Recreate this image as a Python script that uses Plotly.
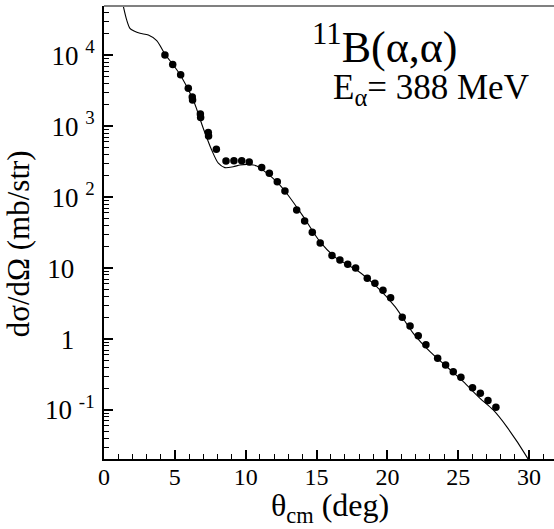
import plotly.graph_objects as go

# Experimental data: theta_cm (deg), dsigma/dOmega (mb/str)
theta_exp = [4.30, 4.85, 5.41, 5.95, 6.23, 6.25, 6.80, 6.82, 7.36, 7.38, 7.93,
             8.61, 9.17, 9.72, 10.25, 11.13, 11.67, 12.23, 12.77, 13.60, 14.16,
             14.70, 15.26, 16.09, 16.65, 17.20, 17.76, 18.58, 19.12, 19.69, 20.23,
             21.05, 21.60, 22.18, 22.72, 23.55, 24.11, 24.65, 25.19, 26.01, 26.56,
             27.10, 27.66]
xs_exp = [10100, 7410, 5330, 3430, 2580, 2340, 1489, 1328, 816, 728, 474,
          324, 327, 327, 313, 261, 217, 165, 122, 65.9, 46.1,
          32.0, 22.6, 15.0, 13.0, 11.3, 10.0, 7.19, 6.11, 4.87, 3.82,
          2.03, 1.53, 1.11, 0.832, 0.535, 0.431, 0.347, 0.289, 0.206, 0.172,
          0.136, 0.109]

# Calculation (solid line)
theta_calc = [1.20, 1.36, 1.60, 1.83, 2.12, 2.54, 3.13, 3.72, 4.30, 4.89, 5.43,
              6.30, 7.01, 7.60, 8.07, 8.53, 9.12, 9.60, 10.07, 10.54, 10.78,
              11.36, 12.30, 12.89, 14.07, 15.24, 16.42, 17.83, 19.24, 20.54,
              21.83, 23.01, 24.19, 25.36, 26.54, 27.47, 28.42, 29.83, 30.10]
xs_calc = [70800, 49500, 31500, 24000, 22000, 20400, 19300, 16100, 10400, 7300, 5100,
           2340, 930, 462, 301, 261, 269, 284, 290, 284, 275,
           229, 157, 113.5, 53.1, 23.6, 13.7, 9.40, 5.47, 2.86,
           1.205, 0.664, 0.407, 0.251, 0.146, 0.100, 0.0582, 0.0220, 0.0175]

y_tickvals = [0.1, 1, 10, 100, 1000, 10000]
y_ticktext = ["10 <sup>-1</sup>", "1\u00a0\u00a0\u00a0", "10\u00a0\u00a0\u00a0",
              "10 <sup>2</sup>", "10 <sup>3</sup>", "10 <sup>4</sup>"]
x_tickvals = [0, 5, 10, 15, 20, 25, 30]

minor_y = [m * 10 ** e for e in range(-2, 5) for m in range(2, 10)]

FONT = "Liberation Serif"

fig = go.Figure()
fig.add_trace(go.Scatter(x=theta_calc, y=xs_calc, mode="lines",
                         line=dict(color="black", width=1.1, shape="spline", smoothing=0.8),
                         showlegend=False, hoverinfo="skip"))
fig.add_trace(go.Scatter(x=theta_exp, y=xs_exp, mode="markers",
                         marker=dict(color="black", size=7.5),
                         showlegend=False))

fig.update_layout(
    width=554, height=529,
    margin=dict(l=104, r=0, t=6, b=70),
    paper_bgcolor="white", plot_bgcolor="white",
    font=dict(family=FONT, color="black"),
    xaxis=dict(range=[0, 31.76], tickvals=x_tickvals, ticks="inside", ticklen=9,
               tickwidth=1.5, tickcolor="black", showline=True, linecolor="black",
               linewidth=2, showgrid=False, zeroline=False, ticklabelstandoff=-5,
               tickfont=dict(family=FONT, size=24, color="black"),
               minor=dict(dtick=1, ticks="inside", ticklen=5, tickwidth=1.2,
                          tickcolor="black", showgrid=False)),
    yaxis=dict(type="log", range=[-1.691, 4.695], tickvals=y_tickvals, ticktext=y_ticktext,
               ticks="inside", ticklen=9, tickwidth=1.5, tickcolor="black",
               showline=True, linecolor="black", linewidth=2, showgrid=False,
               zeroline=False, ticklabelstandoff=2,
               tickfont=dict(family=FONT, size=27, color="black"),
               minor=dict(tickvals=minor_y, ticks="inside", ticklen=5, tickwidth=1.2,
                          tickcolor="black", showgrid=False)),
    shapes=[dict(type="line", xref="paper", yref="paper", x0=0, x1=1, y0=1, y1=1,
                 line=dict(color="#808080", width=2))],
    annotations=[
        dict(text="dσ/dΩ (mb/str)", xref="paper", yref="paper", x=-0.19, y=0.475,
             textangle=-90, showarrow=False, font=dict(family=FONT, size=31),
             xanchor="center", yanchor="middle"),
        dict(text="θ<sub>cm</sub> (deg)", xref="paper", yref="paper", x=0.502, y=-0.107,
             showarrow=False, font=dict(family=FONT, size=32),
             xanchor="center", yanchor="middle"),
        dict(text="<sup>11</sup>B(α,α)", xref="paper", yref="paper", x=0.458, y=0.915,
             showarrow=False, font=dict(family=FONT, size=44),
             xanchor="left", yanchor="middle"),
        dict(text="E<sub>α</sub>= 388 MeV", xref="paper", yref="paper", x=0.505, y=0.815,
             showarrow=False, font=dict(family=FONT, size=35),
             xanchor="left", yanchor="middle"),
    ],
)

fig.write_html("out.html")
